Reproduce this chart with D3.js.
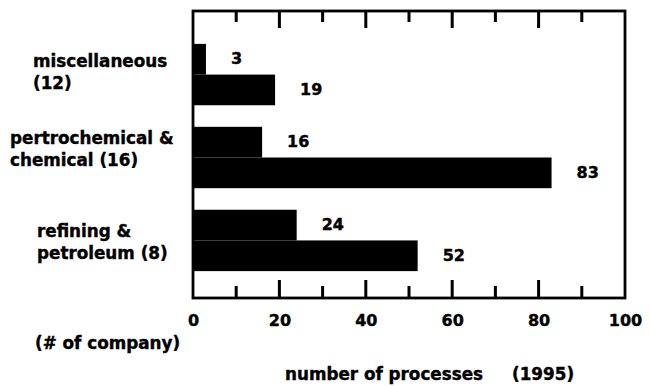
<!DOCTYPE html>
<html>
<head>
<meta charset="utf-8">
<script src="https://cdn.jsdelivr.net/npm/d3@7"></script>
<style>
  html, body { margin: 0; padding: 0; background: #fff; }
  svg { display: block; }
  text { font-family: "DejaVu Sans", sans-serif; font-weight: bold; fill: #000; stroke: #000; stroke-width: 0.4px; }
</style>
</head>
<body>
<svg id="chart" width="650" height="386"></svg>
<script>
// ---- data ----
const categories = ["miscellaneous", "pertrochemical & chemical", "refining & petroleum"];
const categoryLines = [["miscellaneous", "(12)"], ["pertrochemical &", "chemical (16)"], ["refining &", "petroleum (8)"]];
const seriesNames = ["first", "second"];
const firstValues = [3, 16, 24];
const secondValues = [19, 83, 52];
const majorTicks = [0, 20, 40, 60, 80, 100];
const minorTicks = [10, 30, 50, 70, 90];
const xTitle = "number of processes";
const yearLabel = "(1995)";
const countNote = "(# of company)";

// ---- layout ----
const frame = { left: 193, right: 625, top: 11, bottom: 298 };
const labelX = [33, 10, 37];
const labelDy = [-8, -14, -3];
const lineGap = 22;

const svg = d3.select("#chart");

const x = d3.scaleLinear().domain([0, 100]).range([frame.left, frame.right]);
const y = d3.scaleBand().domain(categories).range([19, 296]).paddingInner(0.26).paddingOuter(0.3);
const ySub = d3.scaleBand().domain(seriesNames).range([0, y.bandwidth()]).padding(0);

const rows = categories.map((c, i) => ({ cat: c, lines: categoryLines[i], vals: [firstValues[i], secondValues[i]], i }));

// frame
svg.append("rect")
  .attr("x", x(0)).attr("y", frame.top)
  .attr("width", x(100) - x(0)).attr("height", frame.bottom - frame.top)
  .attr("fill", "none").attr("stroke", "#000").attr("stroke-width", 2.8);

// top ticks (pointing down, inside frame)
const topTicks = svg.append("g").attr("class", "top-ticks");
topTicks.selectAll("rect.major").data(majorTicks.slice(1, -1)).join("rect")
  .attr("class", "major")
  .attr("x", d => x(d) - 1.5).attr("width", 3)
  .attr("y", frame.top).attr("height", 17)
  .attr("fill", "#000");
topTicks.selectAll("rect.minor").data(minorTicks).join("rect")
  .attr("class", "minor")
  .attr("x", d => x(d) - 1.5).attr("width", 3)
  .attr("y", frame.top).attr("height", 11)
  .attr("fill", "#000");

// bottom ticks (pointing up, inside frame)
const botTicks = svg.append("g").attr("class", "bottom-ticks");
botTicks.selectAll("rect.major").data(majorTicks.slice(1, -1)).join("rect")
  .attr("class", "major")
  .attr("x", d => x(d) - 1.5).attr("width", 3)
  .attr("y", frame.bottom - 18).attr("height", 18)
  .attr("fill", "#000");
botTicks.selectAll("rect.minor").data(minorTicks).join("rect")
  .attr("class", "minor")
  .attr("x", d => x(d) - 1.5).attr("width", 3)
  .attr("y", frame.bottom - 12).attr("height", 12)
  .attr("fill", "#000");

// bars
const g = svg.append("g");
rows.forEach(r => {
  seriesNames.forEach((s, j) => {
    const v = r.vals[j];
    const yy = y(r.cat) + ySub(s);
    g.append("rect")
      .attr("x", x(0))
      .attr("y", yy)
      .attr("width", x(v) - x(0))
      .attr("height", ySub.bandwidth())
      .attr("fill", "#000");
    g.append("text")
      .attr("x", x(v) + 25)
      .attr("y", yy + ySub.bandwidth() / 2)
      .attr("dy", "0.3em")
      .attr("font-size", 16)
      .text(v);
  });
});

// tick labels
const lab = svg.append("g").attr("transform", `translate(0,${frame.bottom})`)
  .call(d3.axisBottom(x).tickValues(majorTicks).tickSize(0).tickPadding(17).tickFormat(d3.format("d")));
lab.select(".domain").remove();
lab.selectAll("text")
  .attr("font-size", 16).attr("font-family", "DejaVu Sans").attr("font-weight", "bold")
  .attr("fill", "#000").attr("stroke", "#000").attr("stroke-width", 0.4);

// category labels
rows.forEach(r => {
  const cy = y(r.cat) + y.bandwidth() / 2 + labelDy[r.i];
  r.lines.forEach((ln, k) => {
    svg.append("text")
      .attr("x", labelX[r.i])
      .attr("y", cy + k * lineGap)
      .attr("font-size", 16.8)
      .text(ln);
  });
});

// notes and titles
svg.append("text").attr("x", 35).attr("y", 349).attr("font-size", 16.8).text(countNote);
svg.append("text").attr("x", 285).attr("y", 380).attr("font-size", 16.8).text(xTitle);
svg.append("text").attr("x", 512).attr("y", 380).attr("font-size", 16.8).text(yearLabel);
</script>
</body>
</html>
